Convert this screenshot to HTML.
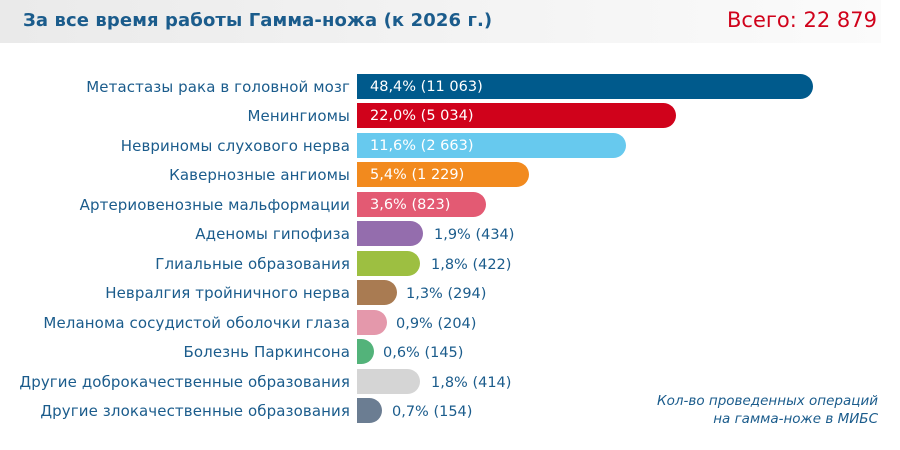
<!DOCTYPE html>
<html><head><meta charset="utf-8"><style>
body{margin:0;width:900px;height:450px;background:#fff;position:relative;overflow:hidden;font-family:"DejaVu Sans","Liberation Sans",sans-serif}
.hdr{position:absolute;left:0;top:0;width:881px;height:43px;background:linear-gradient(90deg,#eaeaea,#fbfbfb)}
.t{position:absolute;left:23px;top:10px;font-size:18px;font-weight:bold;color:#1b5c8c;letter-spacing:0.1px}
.tot{position:absolute;right:23px;top:8px;font-size:21px;color:#d0021b}
.l{position:absolute;right:550px;font-size:15px;color:#1b5c8c;white-space:nowrap;line-height:27px;letter-spacing:0.1px}
.b{position:absolute;left:357px;height:25px;border-radius:0 12.5px 12.5px 0}
.v{position:absolute;font-size:14.5px;line-height:27px;white-space:nowrap;color:#1b5c8c}
.in{color:#fff;left:370px}
.note{position:absolute;right:22px;top:392px;text-align:right;font-size:13.5px;font-style:italic;color:#1b5c8c;line-height:18px}
</style></head><body>
<div class="hdr"></div>
<div class="t">За все время работы Гамма-ножа (к 2026 г.)</div>
<div class="tot">Всего: 22 879</div>

<div class="l" style="top:74px">Метастазы рака в головной мозг</div><div class="b" style="top:74px;width:456px;background:#005a8c"></div><div class="v in" style="top:74px">48,4% (11 063)</div>
<div class="l" style="top:103px">Менингиомы</div><div class="b" style="top:103px;width:319px;background:#d0021b"></div><div class="v in" style="top:103px">22,0% (5 034)</div>
<div class="l" style="top:133px">Невриномы слухового нерва</div><div class="b" style="top:133px;width:269px;background:#67c9ee"></div><div class="v in" style="top:133px">11,6% (2 663)</div>
<div class="l" style="top:162px">Кавернозные ангиомы</div><div class="b" style="top:162px;width:172px;background:#f28a1e"></div><div class="v in" style="top:162px">5,4% (1 229)</div>
<div class="l" style="top:192px">Артериовенозные мальформации</div><div class="b" style="top:192px;width:129px;background:#e35a73"></div><div class="v in" style="top:192px">3,6% (823)</div>
<div class="l" style="top:221px">Аденомы гипофиза</div><div class="b" style="top:221px;width:66px;background:#946dad"></div><div class="v" style="top:222px;left:434px">1,9% (434)</div>
<div class="l" style="top:251px">Глиальные образования</div><div class="b" style="top:251px;width:63px;background:#9dbf41"></div><div class="v" style="top:252px;left:431px">1,8% (422)</div>
<div class="l" style="top:280px">Невралгия тройничного нерва</div><div class="b" style="top:280px;width:40px;background:#a97b52"></div><div class="v" style="top:281px;left:406px">1,3% (294)</div>
<div class="l" style="top:310px">Меланома сосудистой оболочки глаза</div><div class="b" style="top:310px;width:30px;background:#e498ab"></div><div class="v" style="top:311px;left:396px">0,9% (204)</div>
<div class="l" style="top:339px">Болезнь Паркинсона</div><div class="b" style="top:339px;width:17px;background:#53b37a"></div><div class="v" style="top:340px;left:383px">0,6% (145)</div>
<div class="l" style="top:369px">Другие доброкачественные образования</div><div class="b" style="top:369px;width:63px;background:#d5d5d5"></div><div class="v" style="top:370px;left:431px">1,8% (414)</div>
<div class="l" style="top:398px">Другие злокачественные образования</div><div class="b" style="top:398px;width:25px;background:#6b7d92"></div><div class="v" style="top:399px;left:392px">0,7% (154)</div>

<div class="note">Кол-во проведенных операций<br>на гамма-ноже в МИБС</div>
</body></html>
